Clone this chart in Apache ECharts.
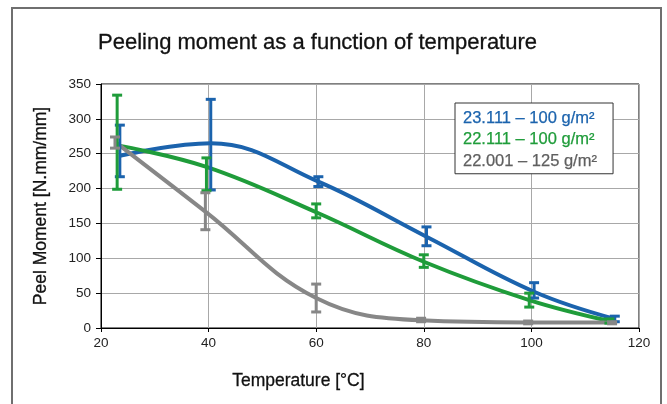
<!DOCTYPE html>
<html><head><meta charset="utf-8">
<script src="https://cdn.jsdelivr.net/npm/echarts@6/dist/echarts.min.js"></script>
<style>html,body{margin:0;padding:0;background:#fff}#c{width:667px;height:404px}</style>
</head><body><div id="c"></div>
<script>
var seriesNames = ['23.111 \u2013 100 g/m\u00b2', '22.111 \u2013 100 g/m\u00b2', '22.001 \u2013 125 g/m\u00b2'];
var blueX = [23.5, 40.4, 60.4, 80.5, 100.5, 115.5];
var blueY = [247, 265, 210, 131, 52, 13];
var blueLow = [217, 198, 203, 118, 43, 9];
var blueHigh = [291, 328, 217, 145, 65, 17];
var greenX = [23, 39.6, 60, 80, 99.6, 114.5];
var greenY = [262, 231, 166, 95, 40, 10];
var greenLow = [199, 197, 158, 87, 30, 7];
var greenHigh = [334, 244, 178, 105, 50, 13];
var grayX = [22.6, 39.4, 60, 79.5, 99.4, 115];
var grayY = [267, 167, 43, 11, 8, 8];
var grayLow = [258, 141, 23, 9, 6, 6];
var grayHigh = [274, 194, 63, 14, 10, 9];
var xTicks = [20, 40, 60, 80, 100, 120];
var yTicks = [0, 50, 100, 150, 200, 250, 300, 350];

var colors = ['#1b63ad', '#1f9c3a', '#878787'];
var legendTextColors = ['#1b63ad', '#1f9c3a', '#5f5f5f'];
var FONT = '"Liberation Sans", Arial, sans-serif';

function pairs(xs, ys) { return xs.map(function (x, i) { return [x, ys[i]]; }); }
function triples(xs, lo, hi) { return xs.map(function (x, i) { return [x, lo[i], hi[i]]; }); }

function errorSeries(name, xs, lo, hi, color) {
  return {
    type: 'custom', name: name, z: 5,
    data: triples(xs, lo, hi),
    renderItem: function (params, api) {
      var x = api.value(0);
      var p1 = api.coord([x, api.value(1)]);
      var p2 = api.coord([x, api.value(2)]);
      var hw = 5;
      var st = { stroke: color, lineWidth: 3 };
      return { type: 'group', children: [
        { type: 'line', shape: { x1: p1[0], y1: p1[1], x2: p2[0], y2: p2[1] }, style: st },
        { type: 'line', shape: { x1: p1[0] - hw, y1: p1[1], x2: p1[0] + hw, y2: p1[1] }, style: st },
        { type: 'line', shape: { x1: p2[0] - hw, y1: p2[1], x2: p2[0] + hw, y2: p2[1] }, style: st }
      ]};
    },
    silent: true
  };
}
function lineSeries(name, xs, ys, color) {
  return {
    type: 'line', name: name, smooth: 0.4, showSymbol: false, symbol: 'none',
    data: pairs(xs, ys), lineStyle: { color: color, width: 4 }, itemStyle: { color: color }, z: 3
  };
}

var chart = echarts.init(document.getElementById('c'), null, { renderer: 'canvas' });
chart.setOption({
  animation: false,
  backgroundColor: '#fff',
  title: {
    text: 'Peeling moment as a function of temperature',
    left: 98, top: 32, padding: 0,
    textStyle: { fontFamily: FONT, fontSize: 22, fontWeight: 'normal', color: '#111',
      textBorderColor: '#111', textBorderWidth: 0.3 }
  },
  grid: { left: 101, top: 84, right: 28, bottom: 76, show: true, borderColor: '#000', borderWidth: 1, backgroundColor: 'transparent' },
  xAxis: {
    type: 'value', min: 20, max: 120, interval: 20,
    axisLine: { show: true, lineStyle: { color: '#000', width: 1 } },
    axisTick: { show: true, length: 4, lineStyle: { color: '#000' } },
    axisLabel: { margin: 8, fontFamily: FONT, fontSize: 13.5, color: '#222',
      formatter: function (v) { return xTicks.indexOf(v) >= 0 ? String(v) : ''; } },
    splitLine: { show: true, lineStyle: { color: '#a8a8a8', width: 1 } }
  },
  yAxis: {
    type: 'value', min: 0, max: 350, interval: 50,
    name: 'Peel Moment [N.mm/mm]', nameLocation: 'middle', nameGap: 51,
    nameTextStyle: { fontFamily: FONT, fontSize: 17.5, color: '#111', textBorderColor: '#111', textBorderWidth: 0.3 },
    axisLine: { show: true, lineStyle: { color: '#000', width: 1 } },
    axisTick: { show: true, length: 5, lineStyle: { color: '#000' } },
    axisLabel: { margin: 10, fontFamily: FONT, fontSize: 13.5, color: '#222',
      formatter: function (v) { return yTicks.indexOf(v) >= 0 ? String(v) : ''; } },
    splitLine: { show: true, lineStyle: { color: '#a8a8a8', width: 1 } }
  },
  legend: {
    orient: 'vertical', left: 455, top: 103,
    data: seriesNames.map(function (n, i) {
      return { name: n, icon: 'none', textStyle: { color: legendTextColors[i], textBorderColor: legendTextColors[i], textBorderWidth: 0.25 } };
    }),
    itemWidth: 0, itemHeight: 0, itemGap: 4,
    backgroundColor: '#fff', borderColor: '#333', borderWidth: 1, padding: [7, 16, 4, 3],
    textStyle: { fontFamily: FONT, fontSize: 16.5, fontWeight: 'normal' }
  },
  graphic: [
    { type: 'rect', shape: { x: 12, y: 8, width: 649, height: 420 }, style: { fill: 'none', stroke: '#6f6f6f', lineWidth: 2 }, silent: true, z: -1 },
    { type: 'text', left: 232, top: 372, style: { text: 'Temperature [\u00b0C]', fontFamily: FONT, fontSize: 17.5, fill: '#111', stroke: '#111', lineWidth: 0.3 } }
  ],
  series: [
    lineSeries(seriesNames[0], blueX, blueY, colors[0]),
    lineSeries(seriesNames[1], greenX, greenY, colors[1]),
    lineSeries(seriesNames[2], grayX, grayY, colors[2]),
    errorSeries(seriesNames[0], blueX, blueLow, blueHigh, colors[0]),
    errorSeries(seriesNames[1], greenX, greenLow, greenHigh, colors[1]),
    errorSeries(seriesNames[2], grayX, grayLow, grayHigh, colors[2])
  ]
});
</script></body></html>
